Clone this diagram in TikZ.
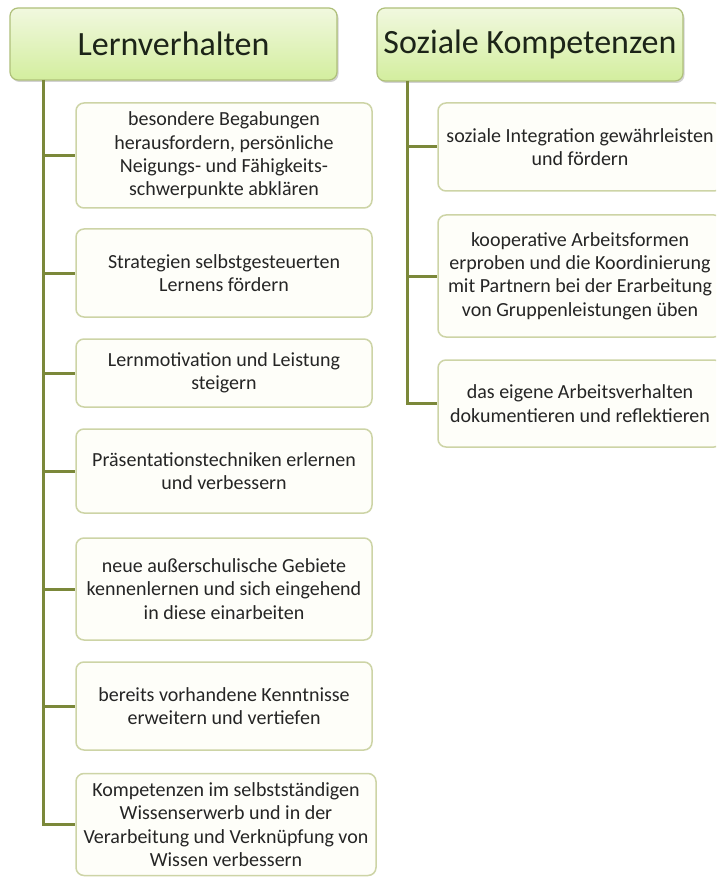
\documentclass[tikz,border=0pt]{standalone}
\usepackage{fontspec}
\setmainfont{Carlito}
\usetikzlibrary{shadows}
\definecolor{hdtop}{HTML}{F1F8DF}
\definecolor{hdbot}{HTML}{D3EE9E}
\definecolor{hdborder}{HTML}{AFC07A}
\definecolor{bxborder}{HTML}{CDD4A6}
\definecolor{bxfill}{HTML}{FEFEF9}
\definecolor{connc}{HTML}{7B883A}
\definecolor{txt}{HTML}{252525}
\definecolor{hdtxt}{HTML}{1C2418}
\tikzset{
  header/.style={rounded corners=8pt, draw=hdborder, line width=1.2pt,
    top color=hdtop, bottom color=hdbot, font=\fontsize{34}{38}\selectfont,
    text=hdtxt, align=center, inner sep=0pt,
    drop shadow={opacity=0.35, shadow xshift=1.5pt, shadow yshift=-2pt}},
  item/.style={rounded corners=8pt, draw=bxborder, line width=1.5pt, fill=bxfill,
    font=\fontsize{20}{23.3}\selectfont, text=txt, align=center, inner sep=0pt},
  conn/.style={draw=connc, line width=3pt}
}
\begin{document}
\begin{tikzpicture}[x=1pt,y=-1pt]
\useasboundingbox[fill=white] (0,0) rectangle (716,877);
\clip (0,0) rectangle (716,877);
% headers
\node[header, minimum width=327pt, minimum height=72pt] (lh) at (173.5,44) {Lernverhalten};
\node[header, minimum width=306pt, minimum height=73pt] (rh) at (530,44.5) {Soziale Kompetenzen};
% left items
\node[item, minimum width=296pt, minimum height=105pt] (l1) at (224,155.5)
  {besondere Begabungen\\herausfordern, persönliche\\Neigungs- und Fähigkeits-\\schwerpunkte abklären};
\node[item, minimum width=296pt, minimum height=88pt] (l2) at (224,273)
  {Strategien selbstgesteuerten\\Lernens fördern};
\node[item, minimum width=296pt, minimum height=68pt] (l3) at (224,373)
  {Lernmotivation und Leistung\\steigern};
\node[item, minimum width=296pt, minimum height=84pt] (l4) at (224,471)
  {Präsentationstechniken erlernen\\und verbessern};
\node[item, minimum width=296pt, minimum height=102pt] (l5) at (224,589)
  {neue außerschulische Gebiete\\kennenlernen und sich eingehend\\in diese einarbeiten};
\node[item, minimum width=296pt, minimum height=88pt] (l6) at (224,706)
  {bereits vorhandene Kenntnisse\\erweitern und vertiefen};
\node[item, minimum width=300pt, minimum height=102pt] (l7) at (226,824.5)
  {Kompetenzen im selbstständigen\\Wissenserwerb und in der\\Verarbeitung und Verknüpfung von\\Wissen verbessern};
% right items
\node[item, minimum width=284pt, minimum height=88pt] (r1) at (580,147)
  {soziale Integration gewährleisten\\und fördern};
\node[item, minimum width=284pt, minimum height=122pt] (r2) at (580,276)
  {kooperative Arbeitsformen\\erproben und die Koordinierung\\mit Partnern bei der Erarbeitung\\von Gruppenleistungen üben};
\node[item, minimum width=284pt, minimum height=87pt] (r3) at (580,403.5)
  {das eigene Arbeitsverhalten\\dokumentieren und reflektieren};
% spines
\coordinate (ls) at (43,80);
\coordinate (rs) at (407,81);
\draw[conn] (ls) |- (l7.west);
\foreach \n in {l1,l2,l3,l4,l5,l6} \draw[conn] (\n.west -| ls) -- (\n.west);
\draw[conn] (rs) |- (r3.west);
\foreach \n in {r1,r2} \draw[conn] (\n.west -| rs) -- (\n.west);
\end{tikzpicture}
\end{document}
